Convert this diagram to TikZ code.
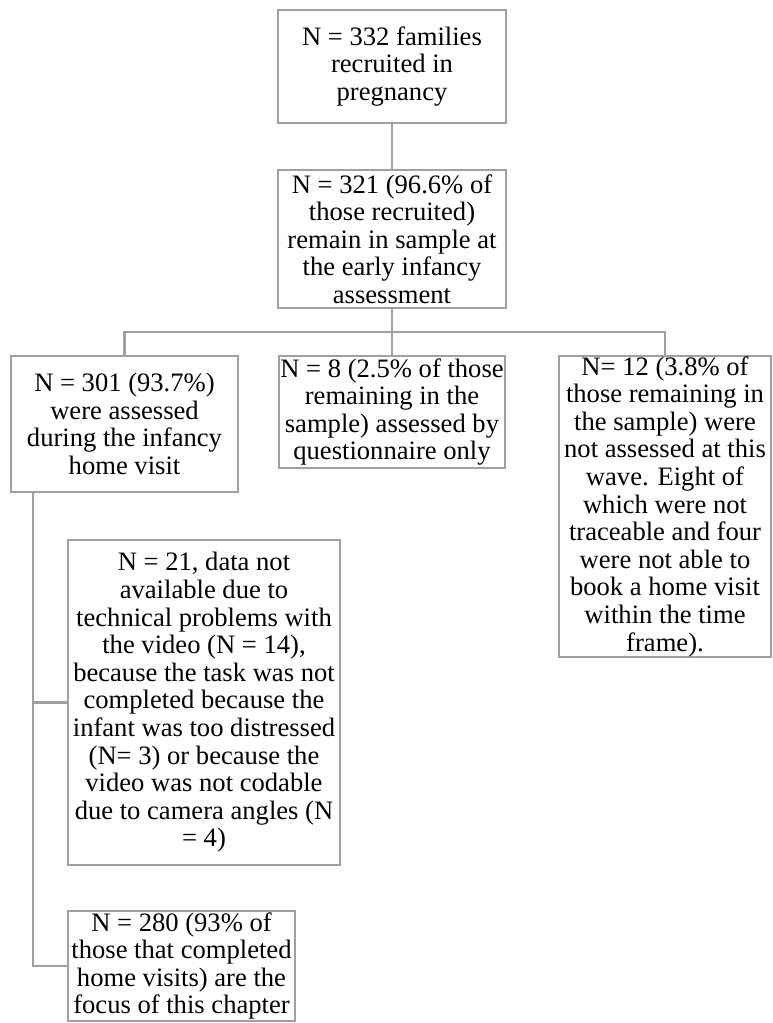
\documentclass[tikz,border=0pt]{standalone}
\usepackage{fontspec}
\setmainfont{Liberation Serif}
\definecolor{linegray}{HTML}{A0A0A0}
\tikzset{
  box/.style={draw=linegray, line width=1.3pt, fill=white, rectangle, inner sep=0pt,
    align=center, font=\fontsize{13.3pt}{13.8pt}\selectfont},
  conn/.style={draw=linegray, line width=1.3pt}
}
\begin{document}
\begin{tikzpicture}[x=0.5pt,y=-0.5pt]
\useasboundingbox (0,0) rectangle (772,1023);
\node[box, minimum width=114pt, minimum height=56.5pt] (b1) at (392,66.5)
  {N = 332 families\\recruited in\\pregnancy};
\node[box, minimum width=114pt, minimum height=69pt] (b2) at (392,239)
  {N = 321 (96.6\% of\\those recruited)\\remain in sample at\\the early infancy\\assessment};
\node[box, minimum width=113.5pt, minimum height=68pt] (b3) at (124.5,424)
  {N = 301 (93.7\%)\\were assessed\\during the infancy\\home visit};
\node[box, minimum width=113pt, minimum height=56pt] (b4) at (392,412)
  {N = 8 (2.5\% of those\\remaining in the\\sample) assessed by\\questionnaire only};
\node[box, minimum width=106pt, minimum height=150.5pt] (b5) at (665,506.5)
  {N= 12 (3.8\% of\\those remaining in\\the sample) were\\not assessed at this\\wave. Eight of\\which were not\\traceable and four\\were not able to\\book a home visit\\within the time\\frame).};
\node[box, minimum width=136pt, minimum height=162.5pt] (b6) at (204,702.5)
  {N = 21, data not\\available due to\\technical problems with\\the video (N = 14),\\because the task was not\\completed because the\\infant was too distressed\\(N= 3) or because the\\video was not codable\\due to camera angles (N\\= 4)};
\node[box, minimum width=113.5pt, minimum height=55pt] (b7) at (181.5,966)
  {N = 280 (93\% of\\those that completed\\home visits) are the\\focus of this chapter};
\coordinate (j) at (392,332);
\coordinate (s0) at (33,492);
\draw[conn] (b1.south) -- (b2.north);
\draw[conn] (b2.south) -- (j);
\draw[conn] (b3.north) |- (j) -| (b5.north);
\draw[conn] (j) -- (b4.north);
\draw[conn] (s0) |- (b7.west);
\draw[conn] (s0 |- b6.west) -- (b6.west);
\end{tikzpicture}
\end{document}
